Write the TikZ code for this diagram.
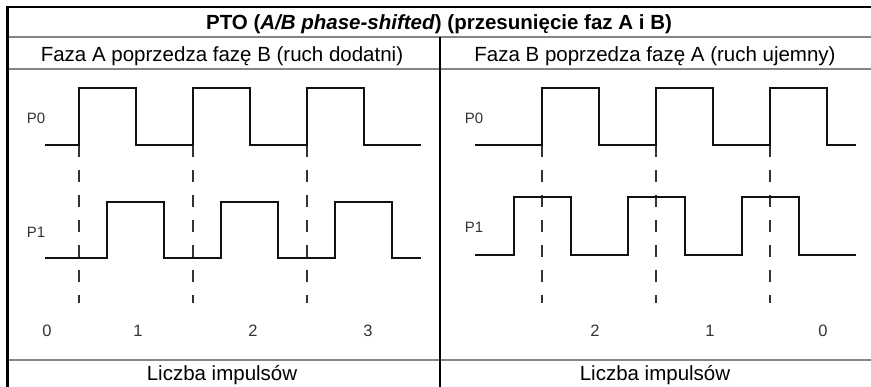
\documentclass[tikz,border=0pt]{standalone}
\usepackage{fontspec}
\setmainfont{Liberation Sans}
\usepackage{xcolor}
\usetikzlibrary{positioning}
\definecolor{cRule}{HTML}{858585}
\definecolor{cWave}{HTML}{111111}
\definecolor{cLabel}{HTML}{333333}
% #1 start x, #2 end x, #3 low y, #4 high y, #5 first rising edge
\newcommand{\pulsetrain}[5]{%
  \draw[wave] (#1,#3)
    \foreach \k in {0,1,2}{ -- ({#5+114*\k},#3) -- ({#5+114*\k},#4)
      -- ({#5+114*\k+57},#4) -- ({#5+114*\k+57},#3) }
    -- (#2,#3);}
\tikzset{
  wave/.style    ={line width=2pt, draw=cWave, line join=miter},
  dashline/.style={line width=1.5pt, draw=cLabel, dash pattern=on 12pt off 13pt},
  rule/.style    ={line width=1.3pt, draw=cRule},
  frame/.style   ={line width=2.4pt, draw=black},
  head/.style    ={anchor=base, font=\fontsize{20.5}{22}\selectfont\bfseries},
  sub/.style     ={anchor=base, font=\fontsize{20.5}{22}\selectfont},
  sig/.style     ={font=\fontsize{15}{17}\selectfont, text=cLabel},
  num/.style     ={anchor=base, font=\fontsize{16.5}{18}\selectfont, text=cLabel},
}
\begin{document}
\begin{tikzpicture}[x=1pt,y=-1pt]
  \useasboundingbox (0,0) rectangle (871,387);
  % table
  \draw[rule] (7,37)--(871,37); \draw[rule] (7,69)--(871,69); \draw[rule] (7,360)--(871,360);
  \draw[line width=1.3pt] (440,37)--(440,387);
  \draw[frame] (7.5,387)--(7.5,7)--(871,7);
  \node[head] (title) at (439,30) {PTO (\textit{A/B phase-shifted}) (przesunięcie faz A i B)};
  \node[sub] (subA) at (222,62) {Faza A poprzedza fazę B (ruch dodatni)};
  \node[sub] (subB) at (655,62) {Faza B poprzedza fazę A (ruch ujemny)};
  \node[sub] (cntA) at (222,381) {Liczba impulsów};
  \node[sub] (cntB) at (655,381) {Liczba impulsów};
  % dodatni
  \foreach \x in {79,193,307} \draw[dashline] (\x,145)--(\x,303);
  \pulsetrain{45}{421}{145}{88}{79}
  \pulsetrain{45}{421}{258}{202}{107}
  \node[sig] (p0A) at (36,118) {P0};
  \node[sig] (p1A) at (36,232) {P1};
  \foreach \x/\n in {47/0,138/1,253/2,368/3} \node[num] (nA\n) at (\x,337) {\n};
  % ujemny
  \foreach \x in {542,656,770} \draw[dashline] (\x,145)--(\x,303);
  \pulsetrain{475}{856}{145}{88}{542}
  \pulsetrain{475}{856}{255}{197}{514}
  \node[sig] (p0B) at (474,118) {P0};
  \node[sig] (p1B) at (474,227) {P1};
  \foreach \x/\n in {595/2,710/1,823/0} \node[num] (nB\n) at (\x,337) {\n};
\end{tikzpicture}
\end{document}
